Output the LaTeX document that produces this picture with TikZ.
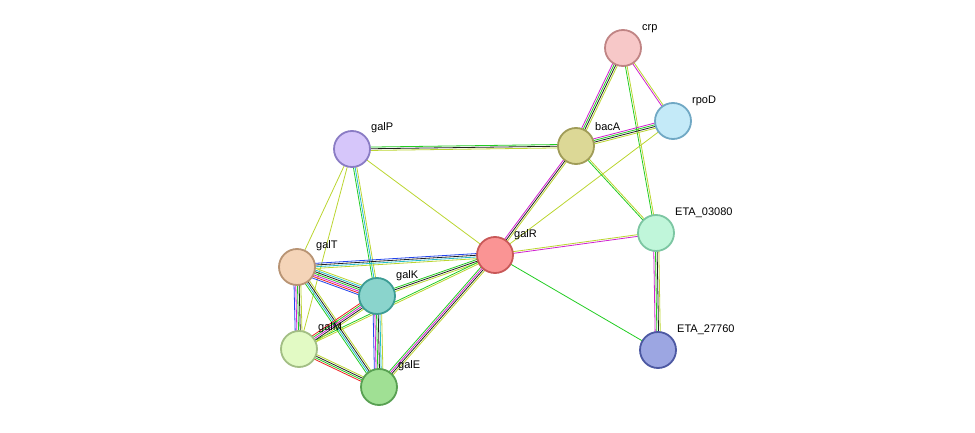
\documentclass[tikz,border=0pt]{standalone}
\usepackage{fontspec}
\setmainfont{Liberation Sans}
\usetikzlibrary{calc,backgrounds}
\definecolor{cNb}{HTML}{22CC22}
\definecolor{cFu}{HTML}{EE2222}
\definecolor{cCo}{HTML}{2244EE}
\definecolor{cEx}{HTML}{222222}
\definecolor{cEp}{HTML}{D020D0}
\definecolor{cDb}{HTML}{22BBCC}
\definecolor{cTm}{HTML}{BBD530}
% node fills and rims
\definecolor{crpF}{HTML}{F7C8C8}\definecolor{crpD}{HTML}{C08484}
\definecolor{rpoDF}{HTML}{C4EAF8}\definecolor{rpoDD}{HTML}{70A8C4}
\definecolor{galPF}{HTML}{D6C6FA}\definecolor{galPD}{HTML}{8A7CC4}
\definecolor{bacAF}{HTML}{DCD896}\definecolor{bacAD}{HTML}{A09C58}
\definecolor{etaAF}{HTML}{C0F6DA}\definecolor{etaAD}{HTML}{7CC6A2}
\definecolor{galRF}{HTML}{FA9494}\definecolor{galRD}{HTML}{C85858}
\definecolor{galTF}{HTML}{F4D4B8}\definecolor{galTD}{HTML}{B89474}
\definecolor{galKF}{HTML}{8AD4CC}\definecolor{galKD}{HTML}{3C9C94}
\definecolor{galMF}{HTML}{E2FAC4}\definecolor{galMD}{HTML}{A2BE84}
\definecolor{galEF}{HTML}{A0E094}\definecolor{galED}{HTML}{58A052}
\definecolor{etaBF}{HTML}{9CA6E2}\definecolor{etaBD}{HTML}{4C58A2}
\tikzset{
  prot/.style={circle, minimum size=36pt, inner sep=0pt, line width=1.8pt, fill=#1F, draw=#1D},
  lbl/.style={font=\fontsize{11}{12}\selectfont, anchor=south west, inner sep=1pt}
}
% multi-coloured link: from, to, count, colours
\newcommand\lnk[4]{%
  \foreach \c [count=\i] in {#4}{%
    \pgfmathsetmacro\o{(\i-(#3+1)/2)*1.7}
    \draw[\c, line width=0.8pt] ($(#1)!\o pt!90:(#2)$) -- ($(#2)!\o pt!-90:(#1)$);
  }}
\begin{document}
\begin{tikzpicture}[x=1pt,y=-1pt]
\useasboundingbox (0,0) rectangle (975,433);

\node[prot=crp] (crp) at (623,48) {};
\node[prot=rpoD] (rpoD) at (673,121) {};
\node[prot=galP] (galP) at (352,149) {};
\node[prot=bacA] (bacA) at (576,146) {};
\node[prot=etaA] (eta3) at (656,233) {};
\node[prot=galR] (galR) at (495,255) {};
\node[prot=galT] (galT) at (297,267) {};
\node[prot=galK] (galK) at (377,296) {};
\node[prot=galM] (galM) at (299,349) {};
\node[prot=galE] (galE) at (379,387) {};
\node[prot=etaB] (eta27) at (658,350) {};

\node[lbl] at (641,34) {crp};
\node[lbl] at (691,107) {rpoD};
\node[lbl] at (370,134) {galP};
\node[lbl] at (594,132) {bacA};
\node[lbl] at (674,219) {ETA\_03080};
\node[lbl] at (513,241) {galR};
\node[lbl] at (315,252) {galT};
\node[lbl] at (395,282) {galK};
\node[lbl] at (317,334) {galM};
\node[lbl] at (397,372) {galE};
\node[lbl] at (676,336) {ETA\_27760};

\begin{pgfonlayer}{background}
\lnk{crp}{bacA}{4}{cEp,cNb,cEx,cTm}
\lnk{crp}{rpoD}{2}{cEp,cTm}
\lnk{crp}{eta3}{2}{cNb,cTm}
\lnk{rpoD}{bacA}{4}{cEp,cNb,cEx,cTm}
\lnk{rpoD}{galR}{1}{cTm}
\lnk{bacA}{galP}{3}{cNb,cEx,cTm}
\lnk{bacA}{galR}{3}{cEp,cEx,cTm}
\lnk{bacA}{eta3}{2}{cNb,cTm}
\lnk{galR}{eta3}{2}{cEp,cTm}
\lnk{galR}{eta27}{1}{cNb}
\lnk{eta3}{eta27}{4}{cEp,cNb,cEx,cTm}
\lnk{galP}{galR}{1}{cTm}
\lnk{galP}{galT}{1}{cTm}
\lnk{galP}{galK}{3}{cNb,cDb,cTm}
\lnk{galP}{galM}{1}{cTm}
\lnk{galR}{galT}{4}{cCo,cEx,cDb,cTm}
\lnk{galR}{galK}{3}{cNb,cEx,cTm}
\lnk{galR}{galM}{2}{cNb,cTm}
\lnk{galR}{galE}{4}{cNb,cEp,cEx,cTm}
\lnk{galT}{galK}{7}{cCo,cFu,cEp,cNb,cEx,cDb,cTm}
\lnk{galT}{galM}{5}{cCo,cEp,cNb,cEx,cTm}
\lnk{galT}{galE}{4}{cNb,cDb,cEx,cTm}
\lnk{galK}{galM}{5}{cFu,cNb,cEp,cEx,cTm}
\lnk{galK}{galE}{6}{cCo,cEp,cNb,cEx,cDb,cTm}
\lnk{galM}{galE}{4}{cFu,cNb,cEx,cTm}
\end{pgfonlayer}
\end{tikzpicture}
\end{document}
